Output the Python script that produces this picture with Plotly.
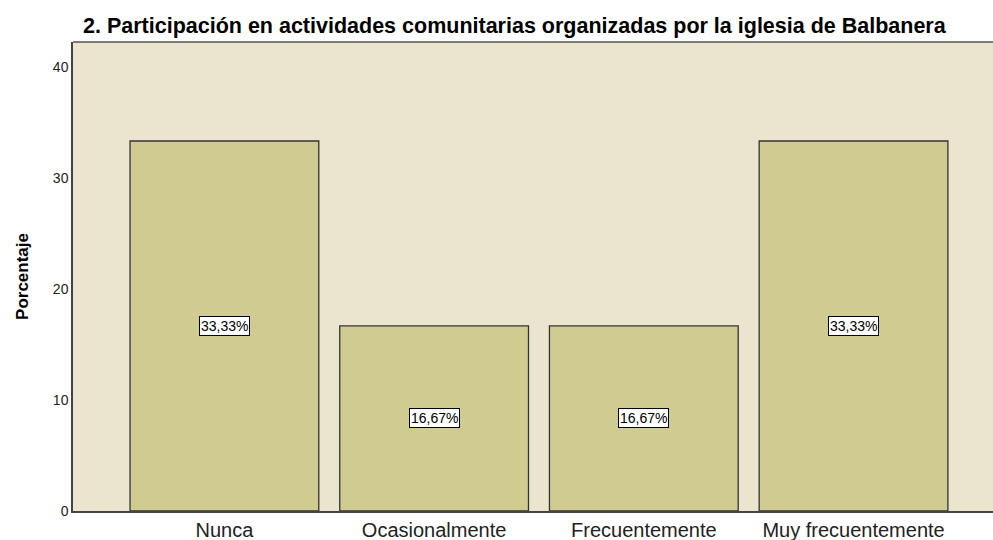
import plotly.graph_objects as go

categories = ["Nunca", "Ocasionalmente", "Frecuentemente", "Muy frecuentemente"]
percentages = [33.33, 16.67, 16.67, 33.33]
labels = ["33,33%", "16,67%", "16,67%", "33,33%"]
y_ticks = [0, 10, 20, 30, 40]

fig = go.Figure()
fig.add_trace(go.Bar(
    x=list(range(len(categories))), y=percentages, width=0.9,
    marker=dict(color="#D0CB91", line=dict(color="#333333", width=1.3)),
    hoverinfo="skip",
))
for i, (v, t) in enumerate(zip(percentages, labels)):
    fig.add_annotation(x=i, y=v / 2, text=t, showarrow=False,
                       font=dict(family="Arial, Liberation Sans", size=14, color="black"),
                       bgcolor="white", bordercolor="black", borderwidth=1, borderpad=1)

fig.update_layout(
    width=993, height=540,
    margin=dict(l=73, r=0, t=42, b=29, autoexpand=False),
    paper_bgcolor="white", plot_bgcolor="#EBE4CF",
    showlegend=False, bargap=0.1,
    title=dict(text="<b>2. Participación en actividades comunitarias organizadas por la iglesia de Balbanera</b>",
               x=83 / 993, xanchor="left", y=1 - 25 / 540, yanchor="middle",
               font=dict(family="Arial, Liberation Sans", size=21.5, color="black")),
    font=dict(family="Arial, Liberation Sans", color="black"),
)
fig.update_xaxes(range=[-0.722, 3.665], tickvals=list(range(len(categories))), ticktext=categories,
                 tickfont=dict(size=20, color="#222"), showgrid=False, zeroline=False, automargin=False,
                 showline=True, linecolor="#444", linewidth=1.5, mirror=False, ticks="", ticklen=0)
fig.update_yaxes(range=[0, 42.25], tickvals=y_ticks, tickfont=dict(size=14, color="#222"),
                 showgrid=False, zeroline=False, showline=True, linecolor="#444", linewidth=1.5,
                 ticks="", ticklen=0, automargin=False,
                 title=dict(text="<b>Porcentaje</b>", font=dict(size=17, color="black"), standoff=20))
fig.add_shape(type="line", xref="paper", yref="paper", x0=0, x1=1, y0=1, y1=1,
              line=dict(color="#555", width=1.5))

fig.write_html("out.html", config={"displayModeBar": False},
               post_script="document.body.style.margin='0';")
